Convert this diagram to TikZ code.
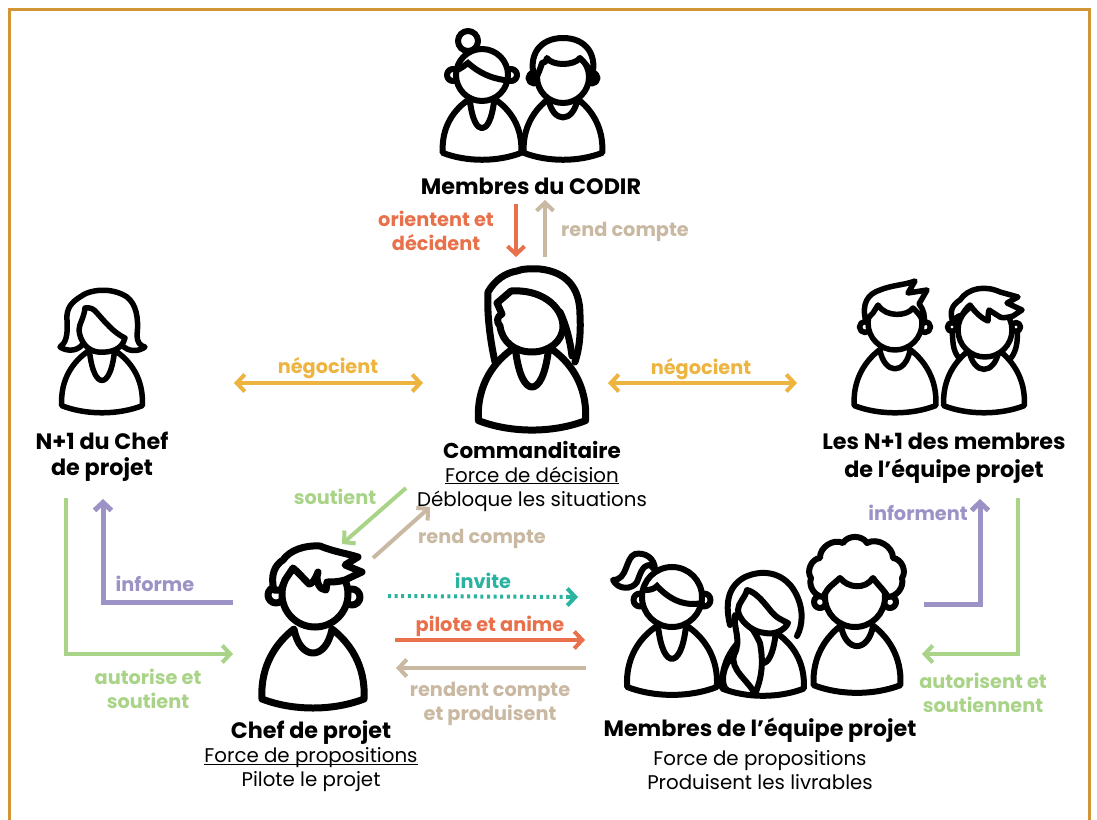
\documentclass[tikz,border=0pt]{standalone}
\usepackage{fontspec}
\setmainfont{Poppins}
\usetikzlibrary{arrows.meta,calc}
\definecolor{frameC}{HTML}{D29636}
\definecolor{redC}{HTML}{E8704A}
\definecolor{tanC}{HTML}{C9B8A2}
\definecolor{yelC}{HTML}{EDB440}
\definecolor{greC}{HTML}{A9D488}
\definecolor{purC}{HTML}{9C92C6}
\definecolor{teaC}{HTML}{2BB3A0}
\newcommand{\bt}[1]{{\fontsize{22.3}{24}\selectfont\bfseries #1}}
\newcommand{\ul}[1]{\underline{\smash{#1}}}
\tikzset{
  icon/.style={draw=black,fill=white,line join=round,line cap=round},
  link/.style={line width=4pt,line join=miter},
  oneway/.style={link,-{Straight Barb[length=8pt,width=17pt]}},
  twoway/.style={link,{Straight Barb[length=8pt,width=17pt]}-{Straight Barb[length=8pt,width=17pt]}},
  lab/.style={font=\fontsize{19.3}{24}\selectfont\bfseries,align=center,inner sep=0pt},
  ttl/.style={font=\fontsize{19.8}{24}\selectfont,align=center,inner sep=0pt}
}
\newcommand{\bodyR}[3]{\begin{scope}[shift={(#1,#2)},scale=#3]
  \path[icon] (-51,-8) .. controls (-53,-42) and (-36,-65) .. (-19,-78) .. controls (-13,-46) and (13,-46) .. (19,-78) .. controls (36,-65) and (53,-42) .. (51,-8) .. controls (20,4) and (-20,4) .. (-51,-8) -- cycle;
\end{scope}}
\newcommand{\bodyV}[3]{\begin{scope}[shift={(#1,#2)},scale=#3]
  \path[icon] (-51,-8) .. controls (-53,-42) and (-36,-65) .. (-16,-78) .. controls (-13,-50) and (-6,-40) .. (0,-40) .. controls (6,-40) and (13,-50) .. (16,-78) .. controls (36,-65) and (53,-42) .. (51,-8) .. controls (20,4) and (-20,4) .. (-51,-8) -- cycle;
\end{scope}}
\begin{document}
\begin{tikzpicture}[x=1pt,y=-1pt]
\useasboundingbox (0,0) rectangle (1097,819);
\fill[white] (0,0) rectangle (1097,819);
\draw[frameC,line width=3pt] (9.5,830) -- (9.5,9.5) -- (1089.5,9.5) -- (1089.5,830);

% ---- CODIR woman
\begin{scope}[line width=6pt]
\path[icon] (468,41) circle (10);
\path[icon] (453,75) circle (6);
\path[icon] (511,75) circle (6);
\bodyV{482}{159}{.77}
\path[icon] (482,75) circle (26);
\draw[line cap=round] (457,70) .. controls (462,68) and (465,65) .. (468,63) .. controls (478,72) and (490,78) .. (504,80);
% CODIR man
\path[icon] (534,78) circle (5.5);
\path[icon] (592,78) circle (5.5);
\bodyR{563}{159}{.77}
\path[icon] (563,77) circle (26);
\path[icon] (535,80) .. controls (527,55) and (540,38) .. (563,38) .. controls (586,38) and (599,55) .. (591,80) .. controls (590,72) and (588,68) .. (587,66) .. controls (584,62) and (582,60) .. (580,58) .. controls (574,66) and (552,66) .. (547,58) .. controls (546,62) and (544,63) .. (542,63) .. controls (540,70) and (538,74) .. (535,80) -- cycle;
\end{scope}

% ---- Commanditaire
\begin{scope}[line width=7pt]
\path[icon] (495,362) .. controls (489,335) and (487,310) .. (488,292) .. controls (495,280) and (505,273) .. (517,271) .. controls (524,268) and (532,269) .. (540,269) .. controls (566,272) and (580,287) .. (580,315) .. controls (581,335) and (579,350) .. (575,362);
\bodyV{532}{429}{1.05}
\path[icon] (511,291) .. controls (540,289) and (562,305) .. (563,326) .. controls (563,342) and (548,352) .. (532,352) .. controls (515,352) and (502,342) .. (500,326) .. controls (496,322) and (497,316) .. (502,314) -- (497,303) -- cycle;
\draw[line cap=round] (560,312) .. controls (566,325) and (570,340) .. (572,356);
\end{scope}

% ---- N+1 du chef
\begin{scope}[line width=5.5pt]
\path[icon] (82,345) .. controls (76,352) and (66,351) .. (60,347) .. controls (66,343) and (68,335) .. (67,320) .. controls (66,308) and (72,302) .. (80,297) .. controls (90,289) and (112,287) .. (127,297) .. controls (136,304) and (139,318) .. (137,335) .. controls (137,342) and (140,346) .. (145,347) .. controls (138,352) and (128,352) .. (122,345);
\bodyV{102}{412}{.79}
\path[icon] (85,308) .. controls (90,307) and (94,309) .. (97,313) .. controls (105,322) and (114,333) .. (125,338) .. controls (122,350) and (110,353) .. (98,352) .. controls (88,351) and (80,342) .. (79,330) .. controls (79,324) and (84,318) .. (85,308) -- cycle;
\end{scope}

% ---- N+1 man
\begin{scope}[line width=5.5pt]
\path[icon] (865,327) circle (5.5);
\path[icon] (925,327) circle (5.5);
\bodyR{895}{412}{.8}
\path[icon] (895,323) circle (27);
\path[icon] (866,322) .. controls (861,303) and (868,294) .. (880,290) .. controls (892,285) and (905,285) .. (915,281) -- (908,293) -- (927,290) -- (919,304) .. controls (924,310) and (925,316) .. (924,323) .. controls (921,316) and (917,312) .. (913,308) .. controls (908,316) and (886,318) .. (878,305) -- (873,313) .. controls (870,316) and (868,318) .. (866,322) -- cycle;
% N+1 woman
\path[icon] (959,358) .. controls (952,350) and (953,340) .. (952,328) -- (1017,328) .. controls (1018,340) and (1017,350) .. (1011,358);
\path[icon] (952,327) circle (4.5);
\path[icon] (1016,327) circle (4.5);
\bodyR{984}{412}{.79}
\path[icon] (985,330) circle (27);
\path[icon] (953,322) .. controls (949,312) and (952,305) .. (960,300) .. controls (968,288) and (985,285) .. (1000,292) -- (1018,297) -- (1007,303) -- (1022,310) -- (1013,316) .. controls (1006,318) and (1002,318) .. (1000,317) -- (989,310) .. controls (988,314) and (988,318) .. (988,321) .. controls (981,318) and (975,312) .. (970,305) .. controls (966,308) and (964,312) .. (962,315) .. controls (958,316) and (955,318) .. (953,322) -- cycle;
\end{scope}

% ---- Chef de projet
\begin{scope}[line width=7pt]
\path[icon] (276,595) circle (8);
\path[icon] (352,597) circle (8);
\bodyR{313}{707}{1}
\path[icon] (315,594) circle (33);
\path[icon] (274,590) .. controls (270,575) and (275,565) .. (283,560) .. controls (290,550) and (305,545) .. (320,546) .. controls (335,552) and (345,553) .. (358,557) -- (345,565) -- (362,572) -- (345,580) .. controls (338,582) and (332,582) .. (327,582) -- (326,590) .. controls (320,590) and (315,582) .. (318,572) .. controls (315,580) and (312,584) .. (309,584) .. controls (303,578) and (298,572) .. (293,568) -- (285,580) -- (281,590) -- (274,590) -- cycle;
\end{scope}

% ---- Team
\begin{scope}[line width=6pt]
\path[icon] (655,570) .. controls (655,558) and (645,552) .. (635,554) .. controls (625,558) and (628,580) .. (613,580) .. controls (618,590) and (632,590) .. (637,582) .. controls (640,575) and (642,565) .. (650,565) -- cycle;
\path[icon] (640,600) circle (6.5);
\path[icon] (704,600) circle (6.5);
\bodyV{672}{694}{.88}
\path[icon] (672,597) circle (30);
\draw[line cap=round] (646,590) .. controls (652,590) and (655,588) .. (657,586) .. controls (668,598) and (683,607) .. (702,603);

\path[icon] (730,625) .. controls (724,600) and (730,585) .. (745,577) .. controls (765,568) and (785,574) .. (795,592) .. controls (804,608) and (803,625) .. (797,636);
\bodyV{763}{695}{.8}
\path[icon] (735,615) .. controls (733,628) and (742,640) .. (734,655) .. controls (730,670) and (748,680) .. (755,694) .. controls (763,675) and (763,660) .. (760,643) .. controls (755,632) and (750,625) .. (745,620) -- cycle;
\draw[line cap=round] (734,655) .. controls (722,665) and (720,685) .. (727,690);
\path[icon] (747,590) .. controls (755,592) and (762,600) .. (770,610) .. controls (776,618) and (782,620) .. (788,623) .. controls (785,630) and (775,635) .. (765,633) .. controls (750,632) and (738,618) .. (738,610) .. controls (738,603) and (745,598) .. (747,590) -- cycle;

\path[icon] (820,602) circle (6);
\path[icon] (890,602) circle (6);
\bodyR{857}{692}{.85}
\path[icon] (855,597) circle (30);
\path[icon] (823,597) to[bend left=50] (811,578) to[bend left=60] (820,558) to[bend left=60] (843,543) to[bend left=60] (867,543) to[bend left=60] (893,558) to[bend left=60] (902,578) to[bend left=50] (888,597) .. controls (884,590) and (878,585) .. (873,578) .. controls (865,590) and (848,588) .. (840,578) -- (832,585) .. controls (828,588) and (826,592) .. (823,597) -- cycle;
\end{scope}

% ---- Titles
\node[ttl] (codir) at (531,186) {\bt{Membres du CODIR}};
\node[ttl] (comm) at (532,476) {{\fontsize{21.5}{24}\selectfont\bfseries Commanditaire}\\\ul{Force de décision}\\Débloque les situations};
\node[ttl] (nchef) at (102,457) {\bt{N+1 du Chef}\\[2pt]\bt{de projet}};
\node[ttl] (nmem) at (944,458) {\bt{Les N+1 des membres}\\[4pt]\bt{de l’équipe projet}};
\node[ttl] (chef) at (311,756) {\bt{Chef de projet}\\\ul{Force de propositions}\\Pilote le projet};
\node[ttl] (team) at (760,754) {\bt{Membres de l’équipe projet}\\[5pt]Force de propositions\\Produisent les livrables};

% ---- Labels
\node[lab,text=redC] (l1) at (436,231) {orientent et\\décident};
\node[lab,text=tanC] (l2) at (625,232) {rend compte};
\node[lab,text=yelC] (l3) at (328,368) {négocient};
\node[lab,text=yelC] (l4) at (701,369) {négocient};
\node[lab,text=greC] (l5) at (335,497) {soutient};
\node[lab,text=tanC] (l6) at (482,539) {rend compte};
\node[lab,text=purC] (l7) at (155,584) {informe};
\node[lab,text=teaC] (l8) at (483,581) {invite};
\node[lab,text=redC] (l9) at (490,626) {pilote et anime};
\node[lab,text=tanC] (l10) at (490,704) {rendent compte\\et produisent};
\node[lab,text=greC] (l11) at (148,689) {autorise et\\soutient};
\node[lab,text=purC] (l12) at (918,513) {informent};
\node[lab,text=greC] (l13) at (983,693) {autorisent et\\soutiennent};

% ---- Connector ends
\coordinate (a1) at (516,204); \coordinate (a2) at (516,257);
\coordinate (b1) at (545,257); \coordinate (b2) at (545,200);
\coordinate (c1) at (234,383); \coordinate (c2) at (423,383);
\coordinate (d1) at (608,383); \coordinate (d2) at (797,383);
\coordinate (e1) at (406,488); \coordinate (e2) at (342,544);
\coordinate (f1) at (373,558); \coordinate (f2) at (430,507);
\coordinate (g1) at (233,602); \coordinate (g2) at (103,602); \coordinate (g3) at (103,499);
\coordinate (h1) at (66,498); \coordinate (h2) at (66,654); \coordinate (h3) at (233,654);
\coordinate (i1) at (388,596); \coordinate (i2) at (578,597);
\coordinate (j1) at (395,640); \coordinate (j2) at (585,640);
\coordinate (k1) at (586,668); \coordinate (k2) at (396,668);
\coordinate (m1) at (924,604); \coordinate (m2) at (980,604); \coordinate (m3) at (980,499);
\coordinate (n1) at (1018,498); \coordinate (n2) at (1018,654); \coordinate (n3) at (922,654);

\draw[oneway,redC] (a1) -- (a2);
\draw[oneway,tanC] (b1) -- (b2);
\draw[twoway,yelC] (c1) -- (c2);
\draw[twoway,yelC] (d1) -- (d2);
\draw[oneway,greC] (e1) -- (e2);
\draw[oneway,tanC] (f1) -- (f2);
\draw[oneway,purC,line width=5pt] (g1) -- (g2) -- (g3);
\draw[oneway,greC] (h1) -- (h2) -- (h3);
\draw[link,teaC,dash pattern=on 3pt off 3.6pt] (i1) -- ($(i2)+(-8,0)$);
\draw[oneway,teaC] ($(i2)+(-10,0)$) -- (i2);
\draw[oneway,redC] (j1) -- (j2);
\draw[oneway,tanC] (k1) -- (k2);
\draw[oneway,purC,line width=5pt] (m1) -- (m2) -- (m3);
\draw[oneway,greC] (n1) -- (n2) -- (n3);
\end{tikzpicture}
\end{document}
